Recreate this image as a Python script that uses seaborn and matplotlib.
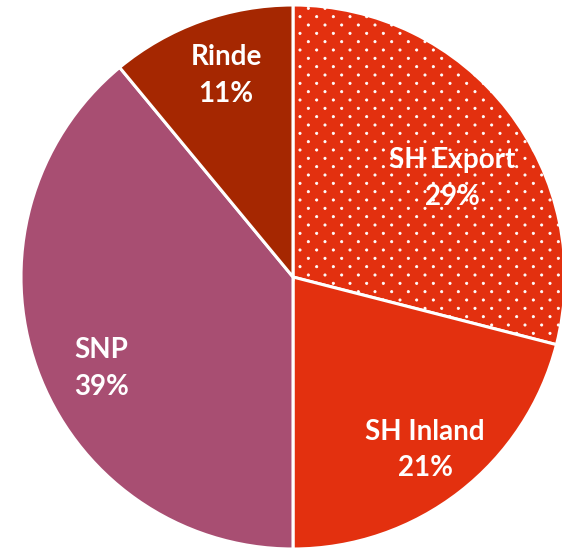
import numpy as np
import matplotlib
matplotlib.use("Agg")
import matplotlib.pyplot as plt
import matplotlib.hatch as mhatch
from matplotlib.path import Path
import seaborn as sns

categories = ["SH Export", "SH Inland", "SNP", "Rinde"]
shares = [29, 21, 39, 11]
colors = ["#E3300F", "#E3300F", "#A84E72", "#A52701"]
hatches = [".", None, None, None]


class StaggerDots(mhatch.HatchPatternBase):
    """Small filled dots: rows 1/12 apart, dots 1/6 apart, alternate rows offset."""
    size = 0.011

    def __init__(self, hatch, density):
        n = hatch.count(".")
        self.ny = 12 * n
        self.nx = 6 * n
        circ = Path.unit_circle()
        self.shape_vertices = circ.vertices
        self.shape_codes = circ.codes
        if n == 0:
            self.num_vertices = 0
        else:
            cnt = sum(self.nx + 1 if r % 2 == 0 else self.nx for r in range(self.ny + 1))
            self.num_vertices = cnt * len(self.shape_vertices)

    def set_vertices_and_codes(self, vertices, codes):
        sv = self.shape_vertices * self.size
        vparts, cparts = [], []
        for r in range(self.ny + 1):
            if r % 2 == 0:
                cols = np.linspace(0, 1, self.nx + 1)
            else:
                cols = np.linspace(0.5 / self.nx, 1 - 0.5 / self.nx, self.nx)
            for c in cols:
                vparts.append(sv + [c, r / self.ny])
                cparts.append(self.shape_codes)
        np.concatenate(vparts, out=vertices)
        np.concatenate(cparts, out=codes)


mhatch._hatch_types = [StaggerDots if t is mhatch.SmallFilledCircles else t
                       for t in mhatch._hatch_types]

sns.set_theme(style="white")
plt.rcParams["font.family"] = ["Lato", "DejaVu Sans"]
plt.rcParams["hatch.color"] = "white"
plt.rcParams["hatch.linewidth"] = 0.6

fig = plt.figure(figsize=(5.62, 5.51), dpi=100)
cx, cy, r = 293, 277, 272
W, H = 562, 551
ax = fig.add_axes([(cx - r) / W, (H - cy - r) / H, 2 * r / W, 2 * r / H])

wedges, _ = ax.pie(shares, colors=colors, startangle=90, counterclock=False,
                   wedgeprops=dict(edgecolor="white", linewidth=2.2))
for w, h in zip(wedges, hatches):
    if h:
        w.set_hatch(h)

ax.set_xlim(-1, 1)
ax.set_ylim(-1, 1)
ax.set_aspect("equal")
ax.axis("off")

# label positions (radius fraction, angle in degrees)
label_pos = [(0.69, 31.7), (0.80, -52.6), (0.78, 205.6), (0.78, 108.4)]
for cat, s, (rf, ang) in zip(categories, shares, label_pos):
    a = np.deg2rad(ang)
    ax.text(rf * np.cos(a), rf * np.sin(a), f"{cat}\n{s}%", ha="center", va="center",
            color="white", fontsize=20, fontweight="bold", linespacing=1.5)

fig.savefig("out.png", dpi=100)
